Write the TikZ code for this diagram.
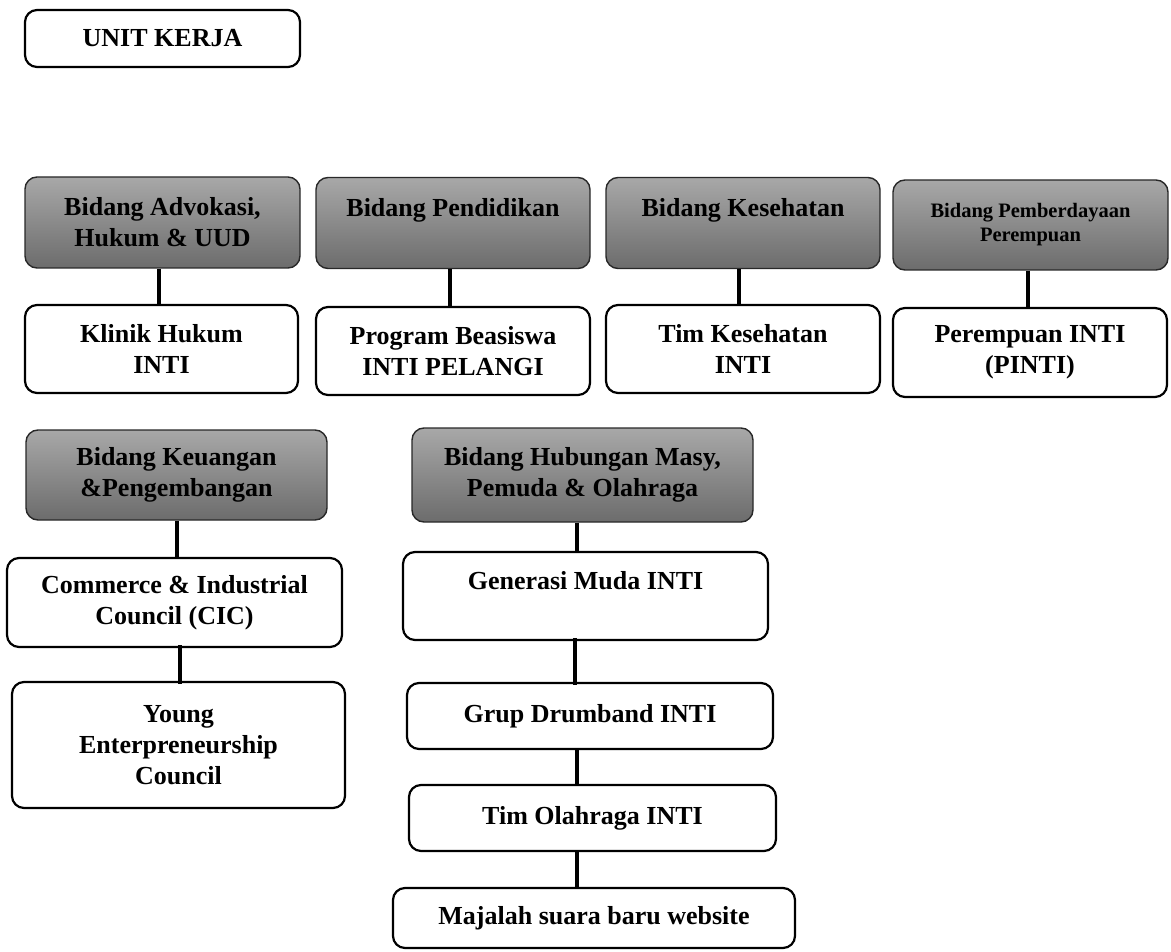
\documentclass[tikz,border=0pt]{standalone}
\usepackage{fontspec}
\setmainfont{Liberation Serif}
\begin{document}
\begin{tikzpicture}[x=1pt,y=-1pt,
  base/.style={rounded corners=12pt, align=center, inner sep=0pt,
    font=\bfseries\fontsize{26}{31}\selectfont},
  wbox/.style={base, draw=black, line width=2.2pt, fill=white},
  gbox/.style={base, draw={rgb,255:red,40;green,40;blue,40}, line width=1.4pt,
    top color={rgb,255:red,168;green,168;blue,168},
    bottom color={rgb,255:red,108;green,108;blue,108}},
  conn/.style={line width=4pt, draw=black}]
\useasboundingbox (0,0) rectangle (1171,952);
% title
\node[wbox, minimum width=275pt, minimum height=57pt] (unit) at (162.5,38.5) {UNIT KERJA};
% row 1 gray
\node[gbox, minimum width=275pt, minimum height=91pt] (g1) at (162.5,222.5) {Bidang Advokasi,\\Hukum \& UUD};
\node[gbox, minimum width=274pt, minimum height=91pt] (g2) at (453,223) {Bidang Pendidikan\\~};
\node[gbox, minimum width=274pt, minimum height=91pt] (g3) at (743,223) {Bidang Kesehatan\\~};
\node[gbox, minimum width=275pt, minimum height=90pt, font=\bfseries\fontsize{20.5}{24}\selectfont] (g4) at (1030.5,225) {Bidang Pemberdayaan\\Perempuan};
% row 1 white
\node[wbox, minimum width=273pt, minimum height=88pt] (w1) at (161.5,349) {Klinik Hukum\\INTI};
\node[wbox, minimum width=274pt, minimum height=88pt] (w2) at (453,351) {Program Beasiswa\\INTI PELANGI};
\node[wbox, minimum width=274pt, minimum height=88pt] (w3) at (743,349) {Tim Kesehatan\\INTI};
\node[wbox, minimum width=274pt, minimum height=89pt] (w4) at (1030,352.5) {Perempuan INTI\\(PINTI)};
% row 2 gray
\node[gbox, minimum width=301pt, minimum height=90pt] (g5) at (176.5,475) {Bidang Keuangan\\\&Pengembangan};
\node[gbox, minimum width=341pt, minimum height=94pt] (g6) at (582.5,475) {Bidang Hubungan Masy,\\Pemuda \& Olahraga};
% left column
\node[wbox, minimum width=335pt, minimum height=89pt] (cic) at (174.5,602.5) {Commerce \& Industrial\\Council (CIC)};
\node[wbox, minimum width=333pt, minimum height=126pt] (yec) at (178.5,745) {Young\\Enterpreneurship\\Council};
% right column
\node[wbox, minimum width=365pt, minimum height=88pt] (gen) at (585.5,596) {Generasi Muda INTI\\~};
\node[wbox, minimum width=366pt, minimum height=66pt] (grup) at (590,716) {Grup Drumband INTI};
\node[wbox, minimum width=367pt, minimum height=66pt] (tim) at (592.5,818) {Tim Olahraga INTI};
\node[wbox, minimum width=402pt, minimum height=60pt] (maj) at (594,918) {Majalah suara baru website};
% connectors
\draw[conn] (g1.south -| 159,0) -- (w1.north -| 159,0);
\draw[conn] (g2.south -| 450,0) -- (w2.north -| 450,0);
\draw[conn] (g3.south -| 739,0) -- (w3.north -| 739,0);
\draw[conn] (g4.south -| 1028,0) -- (w4.north -| 1028,0);
\draw[conn] (g5.south -| 177,0) -- (cic.north -| 177,0);
\draw[conn] ([yshift=3pt]cic.south -| 180,0) -- ([yshift=-3pt]yec.north -| 180,0);
\draw[conn] (g6.south -| 577,0) -- (gen.north -| 577,0);
\draw[conn] ([yshift=3pt]gen.south -| 575,0) -- ([yshift=-3pt]grup.north -| 575,0);
\draw[conn] (grup.south -| 577,0) -- (tim.north -| 577,0);
\draw[conn] (tim.south -| 577,0) -- (maj.north -| 577,0);
\end{tikzpicture}
\end{document}
